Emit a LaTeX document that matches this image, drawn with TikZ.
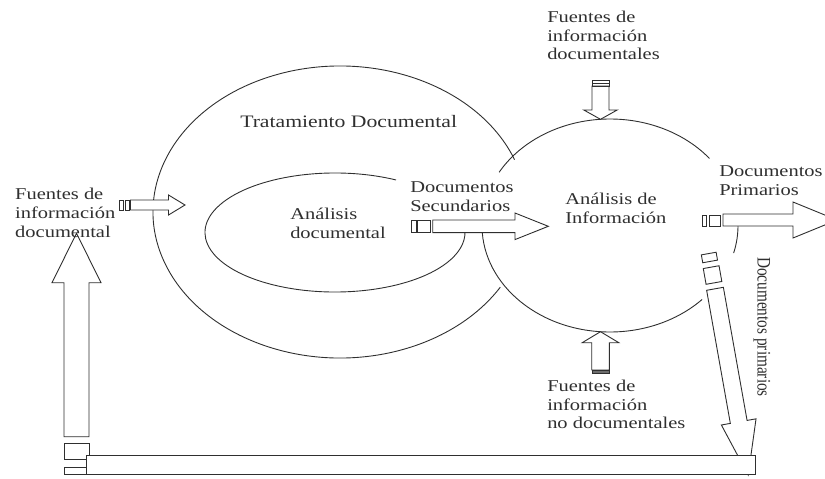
\documentclass[tikz,border=0pt]{standalone}
\usepackage{fontspec}
\setmainfont{Liberation Serif}
\definecolor{ink}{HTML}{2F2F2F}
\tikzset{
  outline/.style={draw=ink, line width=0.9pt},
  hollow/.style={outline, fill=white, line join=miter},
  txt/.style={text=ink, font=\fontsize{16.5}{18.8}\selectfont, align=left, inner sep=0pt},
  lbl/.style={txt, xscale=1.24, anchor=west},
}
% hollow block arrow: start, angle, length, body half width, head half width, head length
\newcommand{\blockarrow}[6]{%
  \begin{scope}[shift={#1}, rotate=#2]
    \draw[hollow] (0,-#4) -- ({#3-#6},-#4) -- ({#3-#6},-#5) -- (#3,0)
      -- ({#3-#6},#5) -- ({#3-#6},#4) -- (0,#4) -- cycle;
  \end{scope}}

\begin{document}
\begin{tikzpicture}[x=1pt, y=-1pt]
  \clip (0,0) rectangle (825,479);
  % Circles
  \coordinate (tdc) at (340,212);
  \coordinate (adc) at (335,232.5);
  \coordinate (aic) at (610,225.5);
  \draw[outline] (tdc) ++(21:187pt and 146pt)
    arc[start angle=21, end angle=329, x radius=187pt, y radius=146pt];
  \draw[outline] (adc) ++(62:130pt and 59.5pt)
    arc[start angle=62, end angle=365, x radius=130pt, y radius=59.5pt];
  \draw[outline] (aic) ++(39:128pt and 106.5pt)
    arc[start angle=39, end angle=150, x radius=128pt, y radius=106.5pt];
  \draw[outline] (aic) ++(178:128pt and 106.5pt)
    arc[start angle=178, end angle=316, x radius=128pt, y radius=106.5pt];
  \draw[outline] (aic) ++(-15:128pt and 106.5pt)
    arc[start angle=-15, end angle=1, x radius=128pt, y radius=106.5pt];
  % Arrows
  \blockarrow{(130.5,205)}{0}{54.5}{5}{10}{16.5}
  \blockarrow{(432.7,226.3)}{0}{115.6}{6.3}{13.3}{33.3}
  \blockarrow{(723,220)}{0}{114}{6}{18}{44}
  \blockarrow{(600.5,86)}{-90}{33.3}{8.5}{16.7}{9.3}
  \blockarrow{(600.5,370)}{90}{38.3}{8.8}{18.3}{11}
  \blockarrow{(76.5,436.7)}{90}{203.4}{12.5}{24.5}{49.4}
  \blockarrow{(715,288.8)}{-79.9}{189.2}{8.5}{17.6}{54}
  % Tail bars
  \draw[outline] (119.5,200) rectangle (123,210);
  \draw[outline] (125,200) rectangle (129,210);
  \draw[outline] (411.7,220) rectangle (416,232.7);
  \draw[outline] (417.7,220) rectangle (430,232.7);
  \draw[outline] (702.7,215.3) rectangle (706.7,226.7);
  \draw[outline] (709.3,215.3) rectangle (720,226.7);
  \draw[outline] (592,80) rectangle (609,83);
  \draw[outline] (592,83) rectangle (609,86);
  \draw[outline, fill=ink!70] (592,370) rectangle (609,373);
  \begin{scope}[shift={(715,288.8)}, rotate=-79.9]
    \draw[outline] (-22,-8) rectangle (-6,8);
    \draw[outline] (-35.8,-7.5) rectangle (-27.8,7.5);
  \end{scope}
  \draw[outline] (64,443.5) rectangle (89,459);
  \draw[outline] (64,467) rectangle (86,474);
  % Bottom bar
  \draw[hollow] (86,455) rectangle (755,474);
  % Labels
  \node[lbl] (fdoc) at (15,213) {Fuentes de\\información\\documental};
  \node[lbl, anchor=base west, font=\fontsize{17.5}{20}\selectfont] (trat) at (240,127.3) {Tratamiento Documental};
  \node[lbl] (adoc) at (290,223.5) {Análisis\\documental};
  \node[lbl] (dsec) at (410,196.5) {Documentos\\Secundarios};
  \node[lbl] (ainf) at (565,208.5) {Análisis de\\Información};
  \node[lbl] (dpri) at (719,181) {Documentos\\Primarios};
  \node[lbl] (ftop) at (547,35.4) {Fuentes de\\información\\documentales};
  \node[lbl] (fbot) at (547,404.4) {Fuentes de\\información\\no documentales};
  \node[txt, rotate=-90, yscale=1.25, font=\fontsize{15.3}{17}\selectfont] (dprv) at (762,327) {Documentos primarios};
\end{tikzpicture}
\end{document}
